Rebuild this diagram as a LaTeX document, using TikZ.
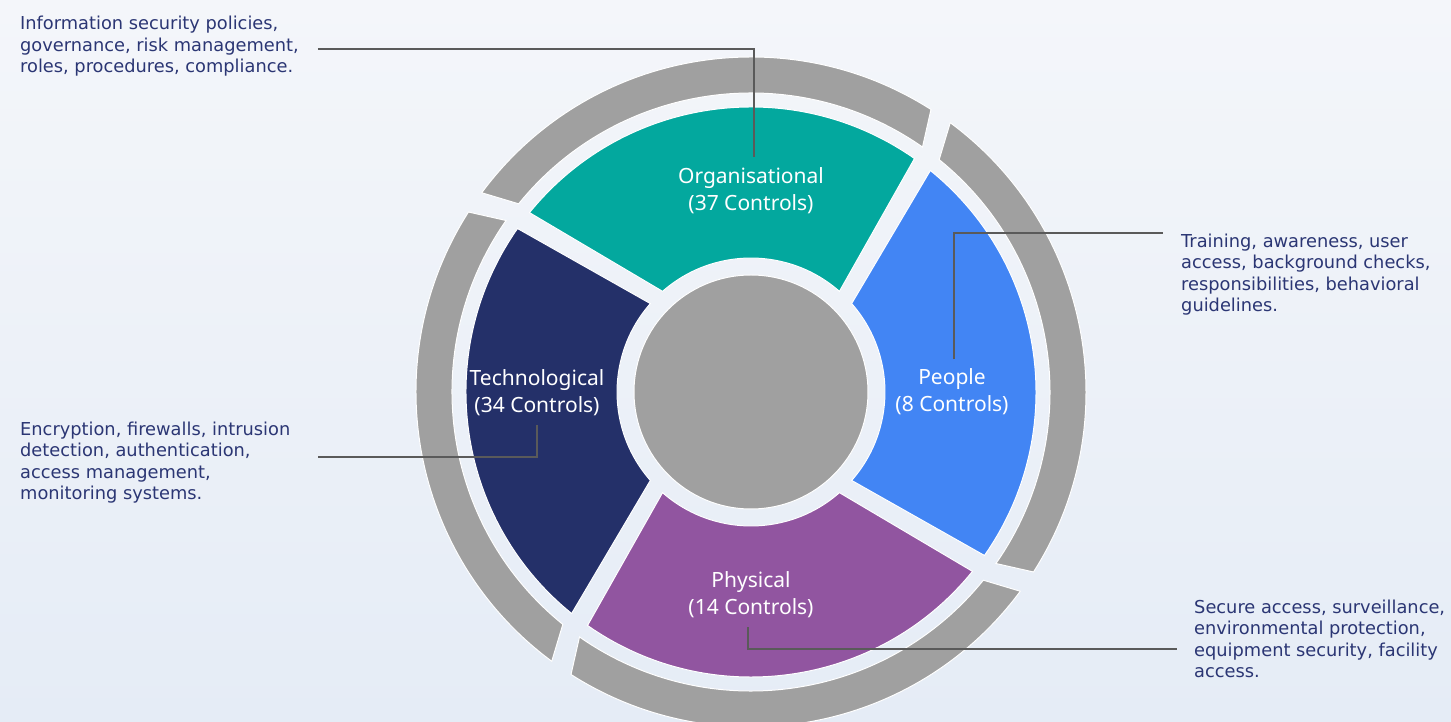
\documentclass[tikz,border=0pt]{standalone}
\usepackage{fontspec}
\setmainfont{DejaVu Sans}
\newfontfamily\labelfont{Noto Sans}
\usetikzlibrary{positioning}

\definecolor{orgcol}{HTML}{03A89E}
\definecolor{pplcol}{HTML}{4285F4}
\definecolor{phycol}{HTML}{9155A0}
\definecolor{teccol}{HTML}{243069}
\definecolor{ringgray}{HTML}{A0A0A0}
\definecolor{desccol}{HTML}{2B3674}
\definecolor{linkcol}{HTML}{5A5A5A}
\definecolor{bgtop}{HTML}{F4F6FA}
\definecolor{bgbot}{HTML}{E5ECF6}

\tikzset{
	segtext/.style={text=white, font=\labelfont\fontsize{21}{27}\selectfont, align=center},
	desctext/.style={text=desccol, font=\fontsize{17.8}{21.5}\selectfont, align=left, inner sep=0pt, anchor=west},
	link/.style={draw=linkcol, line width=1.2pt},
	rimseg/.style={fill=ringgray, draw=white, line width=1pt}
}

\begin{document}
\begin{tikzpicture}[x=1pt, y=1pt]
	% background
	\shade[top color=bgtop, bottom color=bgbot] (-751,-330) rectangle (700,392);
	\useasboundingbox (-751,-330) rectangle (700,392);

	% ring segments
	\foreach \c/\col in {90/orgcol, 0/pplcol, -90/phycol, 180/teccol} {
		\filldraw[fill=\col, draw=white, line width=1pt]
			({\c-41.3}:134pt) arc[start angle=\c-41.3, end angle=\c+41.3, radius=134pt]
			-- ({\c+51}:285pt) arc[start angle=\c+51, end angle=\c-35, radius=285pt] -- cycle;
		\filldraw[rimseg]
			({\c-35}:299pt) arc[start angle=\c-35, end angle=\c+51, radius=299pt]
			-- ({\c+53.5}:335pt) arc[start angle=\c+53.5, end angle=\c-32.5, radius=335pt] -- cycle;
	}
	\filldraw[fill=ringgray, draw=white, line width=1pt] (0,0) circle[radius=117pt];

	% labels
	\node[segtext] (orglab) at (0,201) {Organisational\\(37 Controls)};
	\node[segtext] (ppllab) at (201,0) {People\\(8 Controls)};
	\node[segtext] (phylab) at (0,-202.5) {Physical\\(14 Controls)};
	\node[segtext] (teclab) at (-214,-0.5) {Technological\\(34 Controls)};

	% descriptions
	\node[desctext] (orgdesc) at (-731,345.5) {Information security policies,\\governance, risk management,\\roles, procedures, compliance.};
	\node[desctext] (ppldesc) at (430,117.5) {Training, awareness, user\\access, background checks,\\responsibilities, behavioral\\guidelines.};
	\node[desctext] (tecdesc) at (-731,-70.5) {Encryption, firewalls, intrusion\\detection, authentication,\\access management,\\monitoring systems.};
	\node[desctext] (phydesc) at (443,-247) {Secure access, surveillance,\\environmental protection,\\equipment security, facility\\access.};

	% connectors
	\coordinate (orgtip) at (-433,343);
	\coordinate (ppltip) at (412,159);
	\coordinate (tectip) at (-433,-65);
	\coordinate (phytip) at (426,-257);
	\draw[link] (orgtip) -| ([shift={(3pt,7pt)}]orglab.north);
	\draw[link] ([shift={(2pt,6pt)}]ppllab.north) |- (ppltip);
	\draw[link] ([yshift=-6pt]teclab.south) |- (tectip);
	\draw[link] ([shift={(-3pt,-6pt)}]phylab.south) |- (phytip);
\end{tikzpicture}
\end{document}
